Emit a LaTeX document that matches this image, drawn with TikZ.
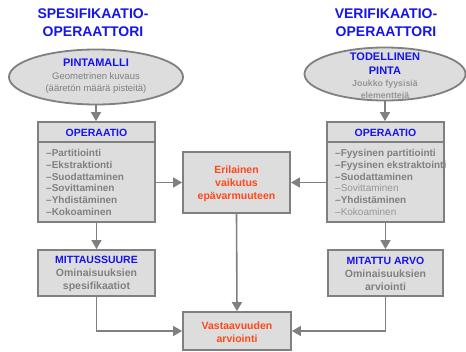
\documentclass[tikz,border=0pt]{standalone}
\usepackage{fontspec}
\setmainfont{Liberation Sans}
\usetikzlibrary{shapes.geometric,arrows.meta}
\definecolor{bordergray}{RGB}{128,128,128}
\definecolor{boxfill}{RGB}{221,221,221}
\definecolor{txtblue}{RGB}{20,20,235}
\definecolor{txtred}{RGB}{255,72,24}
\definecolor{txtgray}{RGB}{128,128,128}
\definecolor{txtlight}{RGB}{150,150,150}
\begin{document}
\begin{tikzpicture}[x=1pt,y=-1pt,
  box/.style={draw=bordergray,line width=1.8pt,fill=boxfill,rectangle,inner sep=0pt},
  ell/.style={draw=bordergray,line width=1.8pt,fill=boxfill,ellipse,inner sep=0pt},
  conn/.style={draw=bordergray,line width=1.6pt},
  arr/.style={conn,-{Triangle[length=9pt,width=10pt]}},
  title/.style={font=\bfseries\fontsize{14}{18}\selectfont,text=txtblue,align=center,inner sep=0pt},
  head/.style={font=\bfseries\fontsize{10.5}{13}\selectfont,text=txtblue,inner sep=0pt},
  item/.style={anchor=base west,inner sep=0pt,font=\bfseries\fontsize{10}{12}\selectfont,text=txtgray},
  itemlight/.style={anchor=base west,inner sep=0pt,font=\fontsize{10}{12}\selectfont,text=txtlight},
  body/.style={font=\bfseries\fontsize{10.5}{13}\selectfont,text=txtgray,align=center,inner sep=0pt},
  redtxt/.style={font=\bfseries\fontsize{10.5}{13}\selectfont,text=txtred,align=center,inner sep=0pt}
]
\useasboundingbox (0,0) rectangle (466,351);

% titles
\node[title] (tL) at (93,23) {SPESIFIKAATIO-\\OPERAATTORI};
\node[title] (tR) at (386,23) {VERIFIKAATIO-\\OPERAATTORI};

% ellipses
\node[ell,minimum width=174pt,minimum height=55pt] (ellL) at (96,77) {};
\node[head,font=\bfseries\fontsize{11}{13}\selectfont] (ellLa) at (96,63) {PINTAMALLI};
\node[inner sep=0pt,font=\fontsize{9.5}{12}\selectfont,text=txtgray,align=center] (ellLb) at (96,83) {Geometrinen kuvaus\\(ääretön määrä pisteitä)};

\node[ell,minimum width=161pt,minimum height=53pt] (ellR) at (385,74) {};
\node[head,font=\bfseries\fontsize{11}{14}\selectfont,align=center] (ellRa) at (385,64) {TODELLINEN\\PINTA};
\node[inner sep=0pt,font=\bfseries\fontsize{8.8}{12}\selectfont,text=txtlight,align=center] (ellRb) at (385,90) {Joukko fyysisiä\\elementtejä};

% OPERAATIO boxes
\node[box,minimum width=117pt,minimum height=100pt] (opL) at (96.5,172) {};
\draw[draw=bordergray,line width=1.8pt] ([yshift=-21pt]opL.north west) -- ([yshift=-21pt]opL.north east);
\node[head] (opLh) at (96.5,133) {OPERAATIO};
\node[item] (l1) at (46,156.5) {–Partitiointi};
\node[item] (l2) at (46,168.3) {–Ekstraktionti};
\node[item] (l3) at (46,180.1) {–Suodattaminen};
\node[item] (l4) at (46,191.9) {–Sovittaminen};
\node[item] (l5) at (46,203.7) {–Yhdistäminen};
\node[item] (l6) at (46,215.5) {–Kokoaminen};

\node[box,minimum width=117pt,minimum height=100pt] (opR) at (385.5,172) {};
\draw[draw=bordergray,line width=1.8pt] ([yshift=-21pt]opR.north west) -- ([yshift=-21pt]opR.north east);
\node[head] (opRh) at (385.5,133) {OPERAATIO};
\node[item] (r1) at (335,156.5) {–Fyysinen partitiointi};
\node[item] (r2) at (335,168.3) {–Fyysinen ekstraktointi};
\node[item] (r3) at (335,180.1) {–Suodattaminen};
\node[itemlight] (r4) at (335,191.9) {–Sovittaminen};
\node[item] (r5) at (335,203.7) {–Yhdistäminen};
\node[itemlight] (r6) at (335,215.5) {–Kokoaminen};

% middle box
\node[box,minimum width=107pt,minimum height=61pt] (mid) at (236.5,182.5) {};
\node[redtxt] (midt) at (236.5,184) {Erilainen\\vaikutus\\epävarmuuteen};

% lower boxes
\node[box,minimum width=117pt,minimum height=46pt] (msL) at (96.5,273) {};
\node[body] (msLt) at (96.5,274) {\textcolor{txtblue}{MITTAUSSUURE}\\Ominaisuuksien\\spesifikaatiot};
\node[box,minimum width=115pt,minimum height=46pt] (msR) at (385.5,273) {};
\node[body] (msRt) at (385.5,274) {\textcolor{txtblue}{MITATTU ARVO}\\Ominaisuuksien\\arviointi};

\node[box,minimum width=108pt,minimum height=38pt] (va) at (237,331) {};
\node[redtxt] (vat) at (237,332.5) {Vastaavuuden\\arviointi};

% connectors
\draw[arr] (ellL.south) -- (ellL.south |- opL.north);
\draw[arr] (ellR.south) -- (ellR.south |- opR.north);
\draw[arr] (opL.south) -- (msL.north);
\draw[arr] (opR.south) -- (msR.north);
\draw[arr] (opL.east |- mid.west) -- (mid.west);
\draw[arr] (opR.west |- mid.east) -- (mid.east);
\draw[arr] (mid.south) -- (va.north);
\draw[arr] (msL.south) |- (va.west);
\draw[arr] (msR.south) |- (va.east);
\end{tikzpicture}
\end{document}
